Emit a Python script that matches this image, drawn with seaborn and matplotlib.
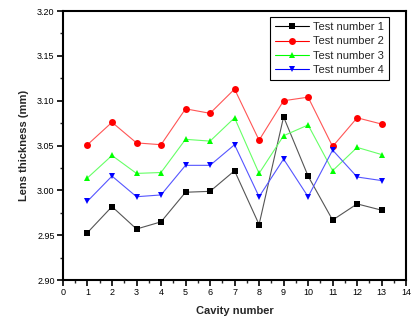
import seaborn as sns
import pandas as pd
import numpy as np
import matplotlib.pyplot as plt
from matplotlib.ticker import MultipleLocator

# Data
cavity = list(range(1, 14))
test1 = [2.953, 2.982, 2.957, 2.965, 2.998, 2.999, 3.022, 2.962, 3.082, 3.016, 2.967, 2.985, 2.978]
test2 = [3.051, 3.076, 3.053, 3.051, 3.091, 3.086, 3.113, 3.056, 3.100, 3.104, 3.049, 3.081, 3.074]
test3 = [3.014, 3.039, 3.019, 3.020, 3.057, 3.055, 3.081, 3.019, 3.061, 3.073, 3.022, 3.048, 3.040]
test4 = [2.988, 3.016, 2.993, 2.995, 3.028, 3.028, 3.051, 2.993, 3.035, 2.993, 3.045, 3.015, 3.011]
names = ["Test number 1", "Test number 2", "Test number 3", "Test number 4"]

df = pd.DataFrame({
    "cavity": cavity * 4,
    "thickness": test1 + test2 + test3 + test4,
    "test": np.repeat(names, len(cavity)),
})

sns.set_theme(style="white")
plt.rcParams['font.family'] = ['Liberation Sans', 'DejaVu Sans']

fig = plt.figure(figsize=(4.17, 3.25), dpi=100)
ax = fig.add_axes([0.151, 0.138, 0.823, 0.828])

palette = {names[0]: "black", names[1]: "red", names[2]: "#00ff00", names[3]: "blue"}
markers = {names[0]: "s", names[1]: "o", names[2]: "^", names[3]: "v"}

sns.lineplot(data=df, x="cavity", y="thickness", hue="test", style="test",
             palette=palette, markers=markers, dashes=False, linewidth=0.8,
             markersize=5, markeredgewidth=0, ax=ax)

# lighter line colours like the original, markers stay solid
for line, c, n in zip(ax.lines, ["#555555", "#ff5555", "#66ff66", "#5555ff"], names):
    line.set_color(c)
    line.set_markerfacecolor(palette[n])
    line.set_markeredgecolor(palette[n])

ax.set_xlim(0, 14)
ax.set_ylim(2.90, 3.20)
ax.xaxis.set_major_locator(MultipleLocator(1))
ax.xaxis.set_minor_locator(MultipleLocator(0.5))
ax.yaxis.set_major_locator(MultipleLocator(0.05))
ax.yaxis.set_minor_locator(MultipleLocator(0.025))
ax.yaxis.set_major_formatter(plt.FormatStrFormatter("%.2f"))
ax.tick_params(which="major", direction="out", length=4, width=1.2, labelsize=6.5,
               bottom=True, left=True, pad=2, colors="black")
ax.tick_params(which="minor", direction="out", length=2.5, width=1.0, bottom=True, left=True)
for s in ax.spines.values():
    s.set_color("black")
    s.set_linewidth(1.5)

ax.set_xlabel("Cavity number", fontsize=8, fontweight="bold", labelpad=6)
ax.set_ylabel("Lens thickness (mm)", fontsize=8, fontweight="bold", labelpad=6)

leg = ax.legend(loc="upper right", bbox_to_anchor=(0.95, 0.978), fontsize=8,
                frameon=True, fancybox=False, edgecolor="black", borderaxespad=0,
                handlelength=3.0, labelspacing=0.4, borderpad=0.45, handletextpad=0.4)
leg.get_frame().set_linewidth(0.8)
leg.get_frame().set_alpha(1)
for h, n in zip(leg.legend_handles, names):
    h.set_color(palette[n])

fig.savefig("out.png", dpi=100)
